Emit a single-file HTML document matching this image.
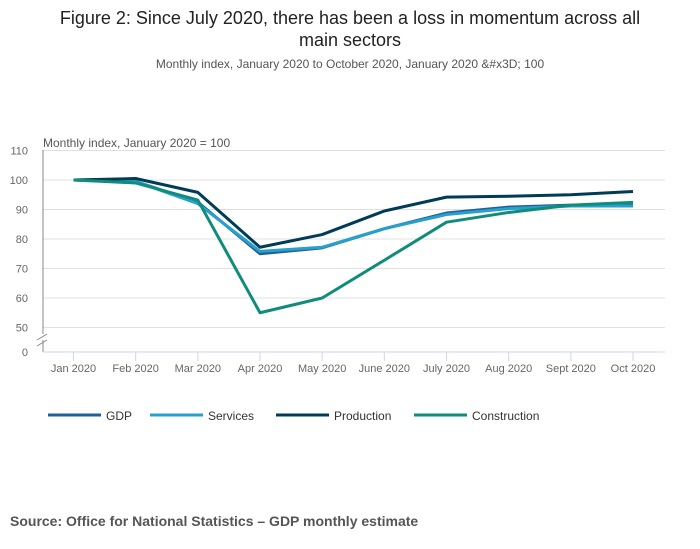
<!DOCTYPE html>
<html><head><meta charset="utf-8"><style>
body{margin:0;background:#fff;font-family:"Liberation Sans",sans-serif;}
#wrap{position:relative;width:700px;height:549px;overflow:hidden}
.t{position:absolute;left:0;width:700px;text-align:center}
</style></head><body>
<div id="wrap">
<div class="t" style="top:7px;font-size:18px;color:#222;line-height:22px">Figure 2: Since July 2020, there has been a loss in momentum across all<br>main sectors</div>
<div class="t" style="top:57px;font-size:12px;color:#555">Monthly index, January 2020 to October 2020, January 2020 &amp;#x3D; 100</div>
<svg id="c" width="700" height="549" style="position:absolute;left:0;top:0"></svg>
<div style="position:absolute;left:10px;top:513px;font-size:14px;font-weight:bold;color:#555">Source: Office for National Statistics – GDP monthly estimate</div>
</div>
<script>
const categories=["Jan 2020","Feb 2020","Mar 2020","Apr 2020","May 2020","June 2020","July 2020","Aug 2020","Sept 2020","Oct 2020"];
const gdp=[100,99.5,92.5,75,77,83.5,88.8,90.8,91.5,91.8];
const services=[100,99.5,92,75.8,77.2,83.5,88.3,90.3,91.2,91.2];
const production=[100,100.5,95.8,77.2,81.5,89.5,94.2,94.5,95,96.1];
const construction=[100,99,93.2,55,60,72.8,85.7,89,91.5,92.4];
const yTicks=[50,60,70,80,90,100,110];
const seriesNames=["GDP","Services","Production","Construction"];
const NS="http://www.w3.org/2000/svg",svg=document.getElementById('c');
function el(t,a,p){const e=document.createElementNS(NS,t);for(const k in a)e.setAttribute(k,a[k]);(p||svg).appendChild(e);return e;}
const x=i=>73.5+i*(633-73.5)/9;
const y=v=>180-(v-100)*2.95;
const L=43,R=665,B=352;
yTicks.forEach(v=>{
 const g=el('line',{x1:L,x2:R,y1:y(v),y2:y(v),stroke:'#e0e0e0','stroke-width':1});
 
 const t=el('text',{x:28,y:y(v)+4,'font-size':11,fill:'#666','text-anchor':'end'});t.textContent=v;
 
});
const z=el('text',{x:28,y:B+4,'font-size':11,fill:'#666','text-anchor':'end'});z.textContent='0';

const ax=el('line',{x1:L,x2:L,y1:150,y2:B,stroke:'#888','stroke-width':1});

el('rect',{x:36,y:334,width:14,height:6,fill:'#fff'});
el('line',{x1:37,x2:47,y1:340,y2:334,stroke:'#888'});el('line',{x1:37,x2:47,y1:346,y2:340,stroke:'#888'});
const xa=el('line',{x1:L,x2:R,y1:B,y2:B,stroke:'#ccd6eb','stroke-width':1});

categories.forEach((c,i)=>{
 el('line',{x1:x(i),x2:x(i),y1:B,y2:B+9,stroke:'#ccd6eb'});
 const t=el('text',{x:x(i),y:B+20,'font-size':11,fill:'#666','text-anchor':'middle'});t.textContent=c;
 
});
const yt=el('text',{x:43,y:147,'font-size':12,fill:'#555'});yt.textContent='Monthly index, January 2020 = 100';

const data=[gdp,services,production,construction];
const colors=['#206095','#27a0cc','#003c57','#118c7b'];
const lx=[48,150,276,414];
[0,1,2,3].forEach(s=>{
 const p=el('polyline',{points:data[s].map((v,i)=>x(i)+','+y(v)).join(' '),fill:'none',stroke:colors[s],'stroke-width':3,'stroke-linejoin':'round'});
 
});
seriesNames.forEach((n,s)=>{
 const g=el('g',{});
 
 el('line',{x1:lx[s],x2:lx[s]+53,y1:415,y2:415,stroke:colors[s],'stroke-width':3},g);
 const t=el('text',{x:lx[s]+58,y:420,'font-size':12,fill:'#333'},g);t.textContent=n;
});
</script>
</body></html>
